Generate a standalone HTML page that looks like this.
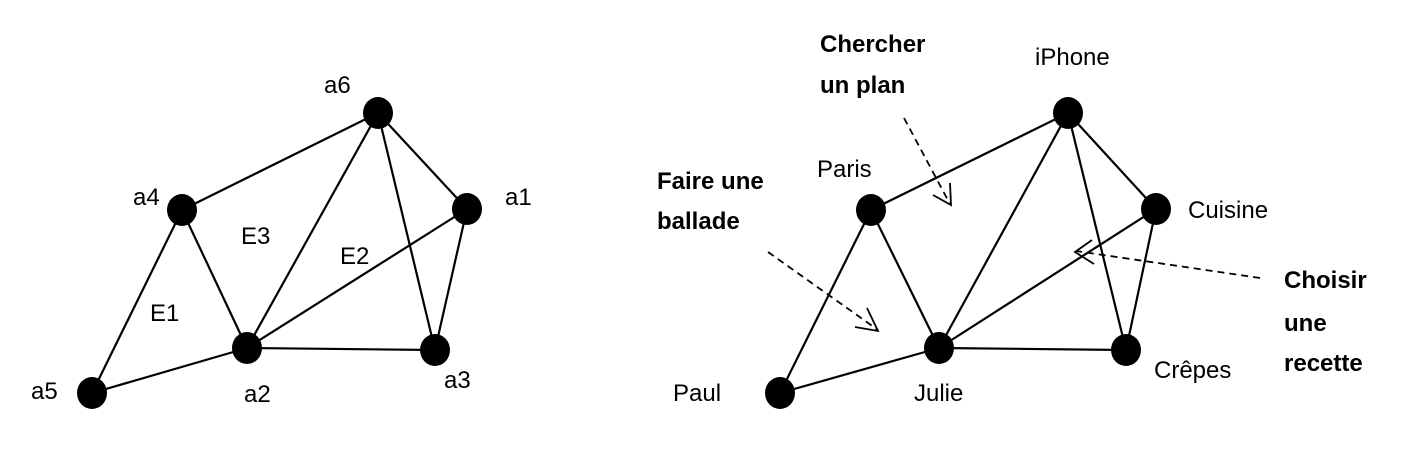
<!DOCTYPE html>
<html><head><meta charset="utf-8"><style>
html,body{margin:0;padding:0;background:#fff;}
svg{display:block;}
text{font-family:"Liberation Sans",sans-serif;font-size:24px;fill:#000;}
.b{font-weight:bold;font-size:24px;}
</style></head><body>
<svg width="1402" height="468" viewBox="0 0 1402 468">
<g stroke="#000" stroke-width="2.2" fill="none">
<line x1="378" y1="113" x2="182" y2="210"/>
<line x1="378" y1="113" x2="247" y2="348"/>
<line x1="378" y1="113" x2="435" y2="350"/>
<line x1="378" y1="113" x2="467" y2="209"/>
<line x1="182" y1="210" x2="247" y2="348"/>
<line x1="182" y1="210" x2="92" y2="393"/>
<line x1="92" y1="393" x2="247" y2="348"/>
<line x1="247" y1="348" x2="467" y2="209"/>
<line x1="247" y1="348" x2="435" y2="350"/>
<line x1="467" y1="209" x2="435" y2="350"/>

<line x1="1068" y1="113" x2="871" y2="210"/>
<line x1="1068" y1="113" x2="939" y2="348"/>
<line x1="1068" y1="113" x2="1126" y2="350"/>
<line x1="1068" y1="113" x2="1156" y2="209"/>
<line x1="871" y1="210" x2="939" y2="348"/>
<line x1="871" y1="210" x2="780" y2="393"/>
<line x1="780" y1="393" x2="939" y2="348"/>
<line x1="939" y1="348" x2="1156" y2="209"/>
<line x1="939" y1="348" x2="1126" y2="350"/>
<line x1="1156" y1="209" x2="1126" y2="350"/>
</g>
<g stroke="#000" stroke-width="1.8" fill="none" stroke-dasharray="7,5">
<line x1="904" y1="118" x2="950" y2="204"/>
<line x1="768" y1="252" x2="878" y2="330"/>
<line x1="1260" y1="278" x2="1076" y2="251"/>
</g>
<g stroke="#000" stroke-width="1.8" fill="none">
<polyline points="933,195 951,205 950,183"/>
<polyline points="855,327 878,331 867,308"/>
<polyline points="1094,264 1075,252 1092,240"/>
</g>
<g fill="#000">
<ellipse cx="378" cy="113" rx="15" ry="16"/>
<ellipse cx="182" cy="210" rx="15" ry="16"/>
<ellipse cx="467" cy="209" rx="15" ry="16"/>
<ellipse cx="247" cy="348" rx="15" ry="16"/>
<ellipse cx="435" cy="350" rx="15" ry="16"/>
<ellipse cx="92" cy="393" rx="15" ry="16"/>
<ellipse cx="1068" cy="113" rx="15" ry="16"/>
<ellipse cx="871" cy="210" rx="15" ry="16"/>
<ellipse cx="1156" cy="209" rx="15" ry="16"/>
<ellipse cx="939" cy="348" rx="15" ry="16"/>
<ellipse cx="1126" cy="350" rx="15" ry="16"/>
<ellipse cx="780" cy="393" rx="15" ry="16"/>
</g>
<text x="324" y="93">a6</text>
<text x="133" y="205">a4</text>
<text x="505" y="205">a1</text>
<text x="31" y="399">a5</text>
<text x="244" y="402">a2</text>
<text x="444" y="388">a3</text>
<text x="241" y="244">E3</text>
<text x="340" y="264">E2</text>
<text x="150" y="321">E1</text>

<text x="1035" y="65">iPhone</text>
<text x="817" y="177">Paris</text>
<text x="1188" y="218">Cuisine</text>
<text x="1154" y="378">Crêpes</text>
<text x="914" y="401">Julie</text>
<text x="673" y="401">Paul</text>
<text class="b" x="820" y="52">Chercher</text>
<text class="b" x="820" y="93">un plan</text>
<text class="b" x="657" y="189">Faire une</text>
<text class="b" x="657" y="229">ballade</text>
<text class="b" x="1284" y="288">Choisir</text>
<text class="b" x="1284" y="331">une</text>
<text class="b" x="1284" y="371">recette</text>
</svg>
</body></html>
